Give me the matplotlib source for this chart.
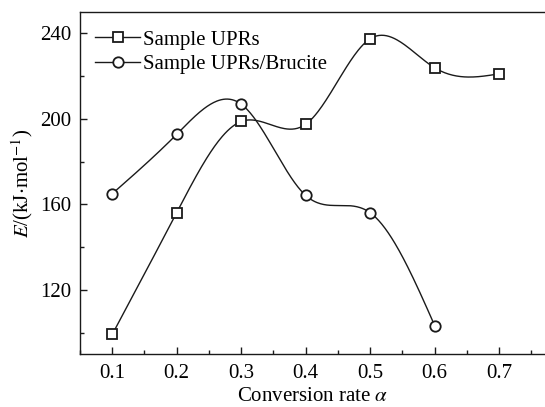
import numpy as np
import matplotlib
matplotlib.use("Agg")
import matplotlib.pyplot as plt
from matplotlib.ticker import MultipleLocator

plt.rcParams['font.family'] = ['Liberation Serif', 'DejaVu Serif']
plt.rcParams['mathtext.fontset'] = 'stix'

alpha = [0.1, 0.2, 0.3, 0.4, 0.5, 0.6, 0.7]
upr = [99.2, 156.2, 198.8, 197.5, 237.5, 223.9, 221.1]
alpha_b = [0.1, 0.2, 0.3, 0.4, 0.5, 0.6]
brucite = [165.0, 192.8, 206.9, 164.2, 156.1, 103.3]


def natural_spline(x, y, n=300):
    x = np.asarray(x, float); y = np.asarray(y, float)
    k = len(x); h = np.diff(x)
    A = np.zeros((k, k)); r = np.zeros(k)
    A[0, 0] = A[-1, -1] = 1
    for i in range(1, k - 1):
        A[i, i - 1] = h[i - 1]; A[i, i] = 2 * (h[i - 1] + h[i]); A[i, i + 1] = h[i]
        r[i] = 3 * ((y[i + 1] - y[i]) / h[i] - (y[i] - y[i - 1]) / h[i - 1])
    c = np.linalg.solve(A, r)
    b = (y[1:] - y[:-1]) / h - h * (2 * c[:-1] + c[1:]) / 3
    d = (c[1:] - c[:-1]) / (3 * h)
    xs = np.linspace(x[0], x[-1], n)
    idx = np.clip(np.searchsorted(x, xs) - 1, 0, k - 2)
    dx = xs - x[idx]
    ys = y[idx] + b[idx] * dx + c[idx] * dx ** 2 + d[idx] * dx ** 3
    return xs, ys


fig = plt.figure(figsize=(5.45, 4.07), dpi=100)
ax = fig.add_axes([0.1468, 0.130, 0.8532, 0.8405])

lw = 1.0
ms = 7.5
col = '#1a1a1a'
xs, ys = natural_spline(alpha, upr)
ax.plot(xs, ys, color=col, lw=lw)
ax.plot(alpha, upr, ls='none', marker='s', ms=ms, mfc='white', mec=col, mew=1.3)
xs, ys = natural_spline(alpha_b, brucite)
ax.plot(xs, ys, color=col, lw=lw)
ax.plot(alpha_b, brucite, ls='none', marker='o', ms=ms, mfc='white', mec=col, mew=1.3)

h1, = ax.plot([], [], color=col, lw=lw, marker='s', ms=ms, mfc='white', mec=col, mew=1.3)
h2, = ax.plot([], [], color=col, lw=lw, marker='o', ms=ms, mfc='white', mec=col, mew=1.3)
ax.legend([h1, h2], ['Sample UPRs', 'Sample UPRs/Brucite'], loc='upper left',
          bbox_to_anchor=(0.0, 0.99), frameon=False, fontsize=15,
          handlelength=2.2, handletextpad=0.12, labelspacing=0.25, borderaxespad=0.3)

ax.set_xlim(0.05, 0.771)
ax.set_ylim(90, 250)
ax.xaxis.set_minor_locator(MultipleLocator(0.05))
ax.yaxis.set_major_locator(MultipleLocator(40))
ax.yaxis.set_minor_locator(MultipleLocator(20))
ax.set_xticks(alpha)
ax.set_xticklabels(['0.1', '0.2', '0.3', '0.4', '0.5', '0.6', '0.7'])
ax.tick_params(which='both', direction='in', labelsize=15, width=1.0, color=col)
ax.tick_params(which='major', length=5)
ax.tick_params(which='minor', length=3)
ax.tick_params(axis='x', pad=7)
ax.tick_params(axis='y', pad=6)
ax.spines['right'].set_visible(False)
for s in ['left', 'bottom', 'top']:
    ax.spines[s].set_linewidth(1.0)
    ax.spines[s].set_color(col)

ax.set_xlabel(r'Conversion rate $\alpha$', fontsize=15, labelpad=3)
ax.set_ylabel(r'$\mathit{E}$/(kJ$\cdot$mol$^{-1}$)', fontsize=15, labelpad=4)

fig.savefig('out.png', dpi=100)
